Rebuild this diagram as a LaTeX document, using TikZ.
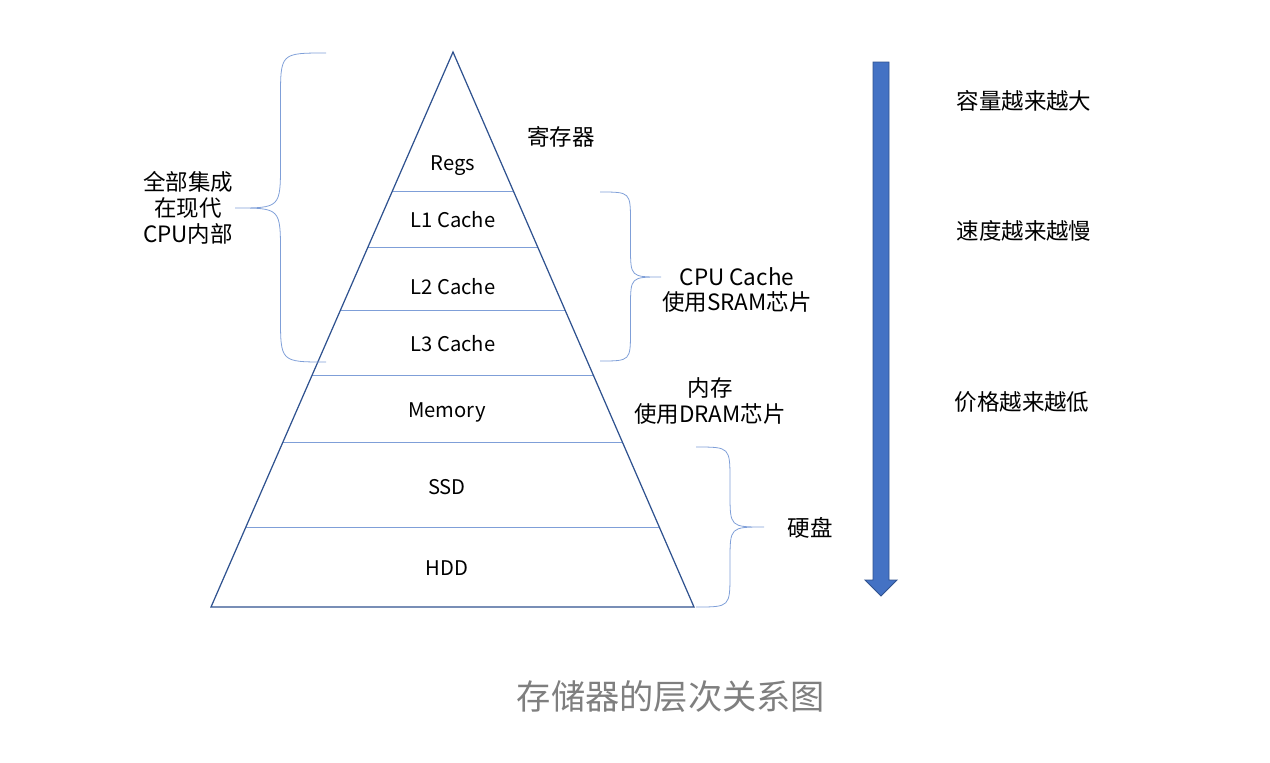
\documentclass[tikz,border=0pt]{standalone}
\usepackage{fontspec}
\setmainfont{Noto Sans CJK SC}
\usepackage{tikz}
\usetikzlibrary{calc}
\definecolor{edgeblue}{HTML}{2F528F}
\definecolor{lineblue}{HTML}{7F9FD8}
\definecolor{fillblue}{HTML}{4472C4}
\definecolor{captgray}{HTML}{7F7F7F}
% brace from (end x, top y) to (end x, bottom y), tip at (tip x, tip y)
\def\wordbrace(#1,#2,#3)(#4,#5){\draw[bracecol] (#1,#2) .. controls ({(#1+#4)/2},#2) .. ({(#1+#4)/2},{#2+abs(#1-#4)/2}) -- ({(#1+#4)/2},{#5-abs(#1-#4)/2}) .. controls ({(#1+#4)/2},#5) .. (#4,#5) .. controls ({(#1+#4)/2},#5) .. ({(#1+#4)/2},{#5+abs(#1-#4)/2}) -- ({(#1+#4)/2},{#3-abs(#1-#4)/2}) .. controls ({(#1+#4)/2},#3) .. (#1,#3);}
\tikzset{
	bracecol/.style={color=lineblue, line width=0.45pt},
	layer/.style={font=\fontsize{11.5}{13}\selectfont},
	note/.style={font=\fontsize{12.8}{14.7}\selectfont, align=center},
}

\begin{document}
\begin{tikzpicture}[x=0.02cm, y=-0.02cm]
	%%%%% START %%%%%
	\useasboundingbox (0,0) rectangle (1270,762);
	
	\coordinate (apex) at (453,52);
	\coordinate (bl) at (211,607);
	\coordinate (br) at (694,607);
	
	% layer lines
	\foreach \t in {0.2505,0.3514,0.4649,0.582,0.7027,0.8559}
		\draw[color=lineblue, line width=0.5pt] ($(apex)!\t!(bl)$) -- ($(apex)!\t!(br)$);
	
	\draw[color=edgeblue, line width=0.7pt] (apex) -- (bl) -- (br) -- cycle;
	
	\node[layer] (regs) at (453,166) {Regs};
	\node[layer] (l1) at (453,220) {L1 Cache};
	\node[layer] (l2) at (453,287) {L2 Cache};
	\node[layer] (l3) at (453,344) {L3 Cache};
	\node[layer] (mem) at (447,412) {Memory};
	\node[layer] (ssd) at (447,487) {SSD};
	\node[layer] (hdd) at (447,568) {HDD};
	
	% braces
	\wordbrace(326,53,362)(235,208);
	\wordbrace(600,192,361)(661,277);
	\wordbrace(696,447,607)(764,527);
	
	\node[note] (cpu) at (188,208) {全部集成\\在现代\\CPU内部};
	\node[note] (reg) at (561,137) {寄存器};
	\node[note] (cache) at (737,290) {CPU Cache\\使用SRAM芯片};
	\node[note] (dram) at (710,401) {内存\\使用DRAM芯片};
	\node[note] (disk) at (810,528) {硬盘};
	
	% arrow
	\draw[fill=fillblue, draw=edgeblue, line width=0.5pt] (873,62) -- (889,62) -- (889,580) -- (897,580) -- (881,596) -- (865,580) -- (873,580) -- cycle;
	
	\node[note] (cap) at (1024,101) {容量越来越大};
	\node[note] (speed) at (1024,231) {速度越来越慢};
	\node[note] (price) at (1022,402) {价格越来越低};
	
	\node[font=\fontsize{19.5}{22}\selectfont, text=captgray] (title) at (671,697) {存储器的层次关系图};
	%%%%% END %%%%%
\end{tikzpicture}
\end{document}
